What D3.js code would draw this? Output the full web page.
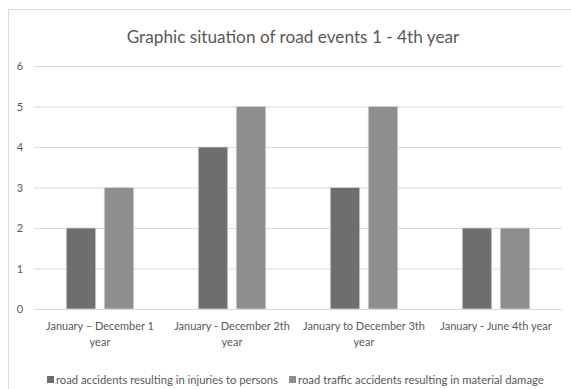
<!DOCTYPE html>
<html>
<head>
<meta charset="utf-8">
<script src="https://cdn.jsdelivr.net/npm/d3@7"></script>
<style>
  html, body { margin: 0; padding: 0; background: #ffffff; }
  svg { display: block; }
  text { font-family: Lato, "Open Sans", "Liberation Sans", sans-serif; fill: #595959; }
</style>
</head>
<body>
<svg id="chart" width="571" height="389"></svg>
<script>
const title = "Graphic situation of road events 1 - 4th year";
const categories = [
  ["January \u2013 December 1", "year"],
  ["January - December 2th", "year"],
  ["January to December 3th", "year"],
  ["January - June 4th year"]
];
const seriesNames = [
  "road accidents resulting in injuries to persons",
  "road traffic accidents resulting in material damage"
];
const injuries = [2, 4, 3, 2];
const damage = [3, 5, 5, 2];
const yTicks = [0, 1, 2, 3, 4, 5, 6];
const colors = ["#6e6e6e", "#8e8e8e"];

const svg = d3.select("#chart");

// chart frame
svg.append("rect")
  .attr("x", 8.5).attr("y", 9.5)
  .attr("width", 600).attr("height", 400)
  .attr("fill", "#ffffff").attr("stroke", "#d9d9d9").attr("stroke-width", 1);

const plot = { left: 34, right: 562, top: 66, bottom: 309 };

const x0 = d3.scaleBand()
  .domain(d3.range(categories.length))
  .range([plot.left, plot.right])
  .paddingInner(0).paddingOuter(0);

const groupW = 67.5;
const x1 = d3.scaleBand()
  .domain(d3.range(seriesNames.length))
  .range([(x0.bandwidth() - groupW) / 2, (x0.bandwidth() + groupW) / 2])
  .paddingInner(8.5 / 38).paddingOuter(0);

const y = d3.scaleLinear().domain([0, 6]).range([plot.bottom, plot.top]);

// gridlines
const yAxis = d3.axisLeft(y).tickValues(yTicks).tickSize(-(plot.right - plot.left)).tickPadding(11).tickFormat(d3.format("d"));
const gAxis = svg.append("g").attr("transform", `translate(${plot.left},0)`).call(yAxis);
gAxis.select(".domain").remove();
gAxis.selectAll(".tick line").attr("stroke", "#d9d9d9").attr("stroke-width", 1);
gAxis.selectAll(".tick text")
  .style("font-size", "11px").style("fill", "#595959")
  .style("font-family", "Lato, 'Open Sans', sans-serif");

// bars
const data = categories.map((c, i) => [injuries[i], damage[i]]);
const groups = svg.append("g").selectAll("g")
  .data(data).join("g")
  .attr("transform", (d, i) => `translate(${x0(i)},0)`);
groups.selectAll("rect")
  .data(d => d.map((v, s) => ({ v, s })))
  .join("rect")
  .attr("x", d => x1(d.s))
  .attr("y", d => y(d.v))
  .attr("width", x1.bandwidth())
  .attr("height", d => y(0) - y(d.v))
  .attr("fill", d => colors[d.s])
  .attr("stroke", "#d4d4d4")
  .attr("stroke-width", 0.8);

// fit helper
function fit(sel, target, base) {
  sel.style("font-size", base + "px");
  const w = sel.node().getComputedTextLength();
  const size = base * target / w;
  sel.style("font-size", size + "px");
  return size;
}

// title
const t = svg.append("text")
  .attr("x", 293).attr("y", 43)
  .attr("text-anchor", "middle")
  .text(title);
fit(t, 333, 18);

// category labels
const probe = svg.append("text").text(categories[0][0]);
const catSize = fit(probe, 108, 12);
probe.remove();
categories.forEach((lines, i) => {
  const tx = svg.append("text")
    .attr("x", x0(i) + x0.bandwidth() / 2)
    .attr("y", 330)
    .attr("text-anchor", "middle")
    .style("font-size", catSize + "px");
  lines.forEach((ln, k) => {
    tx.append("tspan")
      .attr("x", x0(i) + x0.bandwidth() / 2)
      .attr("dy", k === 0 ? 0 : 16)
      .text(ln);
  });
});
gAxis.selectAll(".tick text").style("font-size", catSize + "px");

// legend
const legendX = [47, 289];
const legendTargets = [222, 246];
seriesNames.forEach((name, s) => {
  svg.append("rect")
    .attr("x", legendX[s]).attr("y", 376)
    .attr("width", 7).attr("height", 7)
    .attr("fill", colors[s]);
  const lt = svg.append("text")
    .attr("x", legendX[s] + 9).attr("y", 384)
    .text(name);
  fit(lt, legendTargets[s], 12);
});
</script>
</body>
</html>
